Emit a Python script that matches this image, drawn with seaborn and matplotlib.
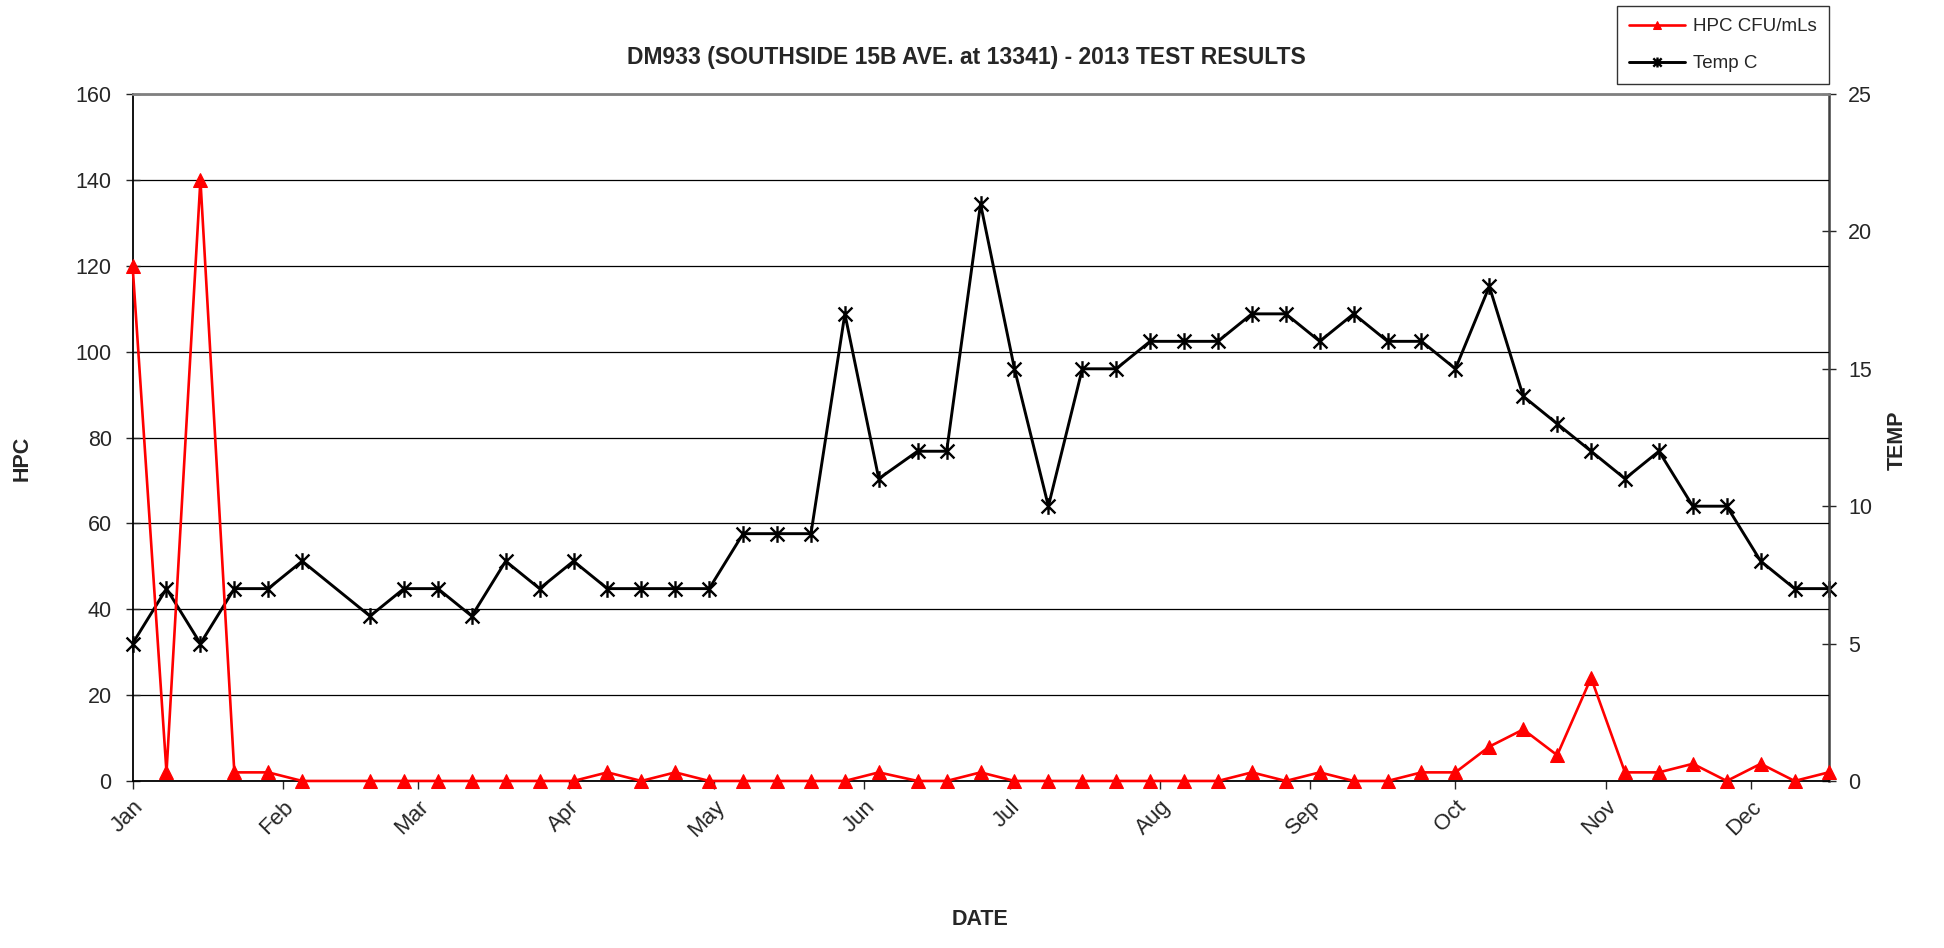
import pandas as pd
import numpy as np
import matplotlib
matplotlib.use("Agg")
import matplotlib.pyplot as plt
import matplotlib.dates as mdates
from matplotlib.path import Path
import seaborn as sns

# Weekly sample dates (2013) and readings
sample_dates = [
    "2013-01-01", "2013-01-08", "2013-01-15", "2013-01-22", "2013-01-29",
    "2013-02-05", "2013-02-19", "2013-02-26", "2013-03-05", "2013-03-12",
    "2013-03-19", "2013-03-26", "2013-04-02", "2013-04-09", "2013-04-16",
    "2013-04-23", "2013-04-30", "2013-05-07", "2013-05-14", "2013-05-21",
    "2013-05-28", "2013-06-04", "2013-06-12", "2013-06-18", "2013-06-25",
    "2013-07-02", "2013-07-09", "2013-07-16", "2013-07-23", "2013-07-30",
    "2013-08-06", "2013-08-13", "2013-08-20", "2013-08-27", "2013-09-03",
    "2013-09-10", "2013-09-17", "2013-09-24", "2013-10-01", "2013-10-08",
    "2013-10-15", "2013-10-22", "2013-10-29", "2013-11-05", "2013-11-12",
    "2013-11-19", "2013-11-26", "2013-12-03", "2013-12-10", "2013-12-17",
]
hpc_cfu = [
    120, 2, 140, 2, 2, 0, 0, 0, 0, 0,
    0, 0, 0, 2, 0, 2, 0, 0, 0, 0,
    0, 2, 0, 0, 2, 0, 0, 0, 0, 0,
    0, 0, 2, 0, 2, 0, 0, 2, 2, 8,
    12, 6, 24, 2, 2, 4, 0, 4, 0, 2,
]
temp_c = [
    5, 7, 5, 7, 7, 8, 6, 7, 7, 6,
    8, 7, 8, 7, 7, 7, 7, 9, 9, 9,
    17, 11, 12, 12, 21, 15, 10, 15, 15, 16,
    16, 16, 17, 17, 16, 17, 16, 16, 15, 18,
    14, 13, 12, 11, 12, 10, 10, 8, 7, 7,
]

df = pd.DataFrame({"date": pd.to_datetime(sample_dates),
                   "hpc": hpc_cfu, "temp": temp_c})

sns.set_style("white")
plt.rcParams["font.family"] = ["Liberation Sans", "DejaVu Sans"]

# Excel-style star marker: an X with a vertical stroke
star = Path([(-1, -1), (1, 1), (-1, 1), (1, -1), (0, -1.2), (0, 1.2)],
            [Path.MOVETO, Path.LINETO, Path.MOVETO, Path.LINETO,
             Path.MOVETO, Path.LINETO])

fig = plt.figure(figsize=(19.44, 9.48), dpi=100)
ax = fig.add_axes([0.0682, 0.1762, 0.8724, 0.7246])
ax2 = ax.twinx()

sns.lineplot(data=df, x="date", y="hpc", ax=ax, color="#ff0000", lw=1.9,
             marker="^", markersize=10.5, markeredgecolor="#ff0000",
             label="HPC CFU/mLs", legend=False, zorder=3, clip_on=False)
sns.lineplot(data=df, x="date", y="temp", ax=ax2, color="black", lw=2.1,
             marker=star, markersize=12, markeredgewidth=1.7,
             markerfacecolor="none", markeredgecolor="black",
             label="Temp C", legend=False, clip_on=False)

ax.set_zorder(ax2.get_zorder() + 1)
ax.patch.set_visible(False)

ax.set_xlim(df["date"].min(), df["date"].max())
ax.set_ylim(0, 160)
ax.set_yticks(np.arange(0, 161, 20))
ax2.set_ylim(0, 25)
ax2.set_yticks(np.arange(0, 26, 5))

ax.xaxis.set_major_locator(mdates.MonthLocator())
ax.xaxis.set_major_formatter(mdates.DateFormatter("%b"))
plt.setp(ax.get_xticklabels(), rotation=45, ha="right", rotation_mode="anchor")

ax.yaxis.grid(True, color="black", lw=0.9)
ax.set_axisbelow(True)

for a in (ax, ax2):
    a.set_xlabel("")
    a.set_ylabel("")
    for s in a.spines.values():
        s.set_visible(False)

ax.spines["left"].set_visible(True)
ax.spines["left"].set_color("black")
ax.spines["left"].set_linewidth(1.3)
ax.spines["bottom"].set_visible(True)
ax.spines["bottom"].set_color("black")
ax.spines["bottom"].set_linewidth(1.3)
ax.spines["top"].set_visible(True)
ax.spines["top"].set_color("#808080")
ax.spines["top"].set_linewidth(2)
ax2.spines["right"].set_visible(True)
ax2.spines["right"].set_color("#404040")
ax2.spines["right"].set_linewidth(1.8)

ax.tick_params(axis="y", direction="inout", length=10, width=1, pad=10,
               labelsize=15.5, left=True)
ax.tick_params(axis="x", direction="out", length=6, width=1, pad=5,
               labelsize=16, bottom=True)
ax2.tick_params(axis="y", direction="inout", length=10, width=1, pad=9,
                labelsize=15.5, right=True)

fig.text(0.497, 0.939, "DM933 (SOUTHSIDE 15B AVE. at 13341) - 2013 TEST RESULTS",
         ha="center", va="center", fontsize=16.5, fontweight="bold")
fig.text(0.0113, 0.516, "HPC", rotation=90, ha="center", va="center",
         fontsize=15.5, fontweight="bold")
fig.text(0.976, 0.536, "TEMP", rotation=90, ha="center", va="center",
         fontsize=15.5, fontweight="bold")
fig.text(0.504, 0.030, "DATE", ha="center", va="center",
         fontsize=15.5, fontweight="bold")

h1, l1 = ax.get_legend_handles_labels()
h2, l2 = ax2.get_legend_handles_labels()
leg = fig.legend(h1 + h2, l1 + l2, loc="upper right",
                 bbox_to_anchor=(0.9406, 0.9937), fontsize=13.5,
                 frameon=True, fancybox=False, edgecolor="black",
                 handlelength=3.0, handletextpad=0.4, labelspacing=1.05,
                 borderpad=0.65, borderaxespad=0, markerscale=0.6)
leg.get_frame().set_linewidth(1)

fig.savefig("out.png", dpi=100)
